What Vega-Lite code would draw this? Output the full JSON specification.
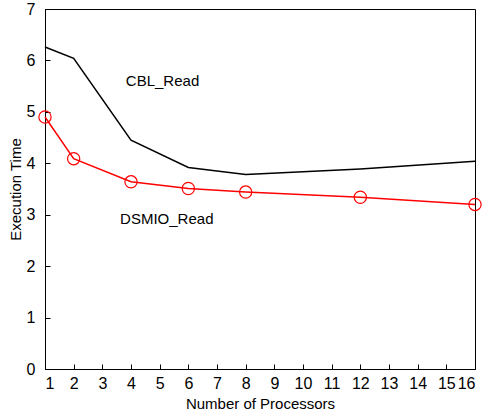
{
  "$schema": "https://vega.github.io/schema/vega-lite/v6.json",
  "width": 430,
  "height": 360,
  "autosize": "none",
  "padding": {"left": 45, "top": 9, "right": 9, "bottom": 47},
  "config": {
    "view": {"stroke": "black", "strokeWidth": 1},
    "font": "Liberation Sans"
  },
  "datasets": {
    "lines": [
      {"p": 1, "t": 6.26, "s": "CBL_Read"},
      {"p": 2, "t": 6.04, "s": "CBL_Read"},
      {"p": 4, "t": 4.45, "s": "CBL_Read"},
      {"p": 6, "t": 3.92, "s": "CBL_Read"},
      {"p": 8, "t": 3.78, "s": "CBL_Read"},
      {"p": 12, "t": 3.89, "s": "CBL_Read"},
      {"p": 16, "t": 4.04, "s": "CBL_Read"},
      {"p": 1, "t": 4.90, "s": "DSMIO_Read"},
      {"p": 2, "t": 4.09, "s": "DSMIO_Read"},
      {"p": 4, "t": 3.64, "s": "DSMIO_Read"},
      {"p": 6, "t": 3.51, "s": "DSMIO_Read"},
      {"p": 8, "t": 3.44, "s": "DSMIO_Read"},
      {"p": 12, "t": 3.34, "s": "DSMIO_Read"},
      {"p": 16, "t": 3.20, "s": "DSMIO_Read"}
    ],
    "labels": [
      {"p": 3.82, "t": 5.6, "label": "CBL_Read"},
      {"p": 3.62, "t": 2.92, "label": "DSMIO_Read"}
    ]
  },
  "encoding": {
    "x": {
      "field": "p", "type": "quantitative",
      "scale": {"domain": [1, 16], "nice": false, "zero": false},
      "axis": {
        "title": "Number of Processors",
        "values": [1,2,3,4,5,6,7,8,9,10,11,12,13,14,15,16],
        "grid": false, "tickSize": -5, "tickColor": "black", "domainColor": "black",
        "labelFontSize": 16, "labelColor": "black", "labelPadding": 11,
        "titleFontSize": 15, "titleFontWeight": "normal", "titleColor": "black", "titlePadding": 5
      }
    },
    "y": {
      "field": "t", "type": "quantitative",
      "scale": {"domain": [0, 7], "nice": false},
      "axis": {
        "title": "Execution Time",
        "values": [0,1,2,3,4,5,6,7],
        "grid": false, "tickSize": -5, "tickColor": "black", "domainColor": "black",
        "labelFontSize": 16, "labelColor": "black", "labelPadding": 15,
        "titleFontSize": 15, "titleFontWeight": "normal", "titleColor": "black", "titlePadding": 3
      }
    }
  },
  "layer": [
    {
      "data": {"name": "lines"},
      "transform": [{"filter": "datum.s === 'CBL_Read'"}],
      "mark": {"type": "line", "color": "black", "strokeWidth": 1.5}
    },
    {
      "data": {"name": "lines"},
      "transform": [{"filter": "datum.s === 'DSMIO_Read'"}],
      "mark": {"type": "line", "color": "red", "strokeWidth": 1.5, "point": {"shape": "circle", "filled": false, "size": 150, "color": "red", "strokeWidth": 1.2}}
    },
    {
      "data": {"name": "labels"},
      "mark": {"type": "text", "align": "left", "baseline": "middle", "fontSize": 15, "color": "black"},
      "encoding": {"text": {"field": "label"}}
    }
  ]
}
